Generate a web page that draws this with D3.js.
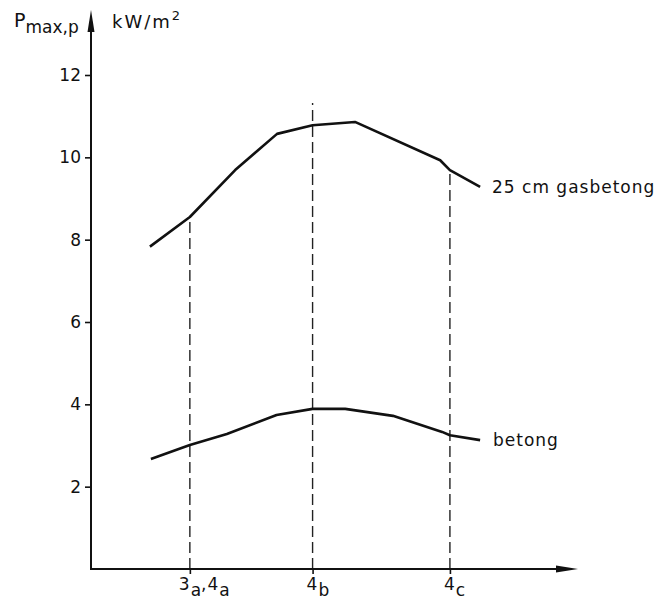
<!DOCTYPE html>
<html>
<head>
<meta charset="utf-8">
<script src="https://cdnjs.cloudflare.com/ajax/libs/d3/7.8.5/d3.min.js"></script>
<style>
  body { margin: 0; background: #fff; }
  text { font-family: "DejaVu Sans", sans-serif; fill: #111; }
</style>
</head>
<body>
<svg id="chart" width="664" height="611"></svg>
<script>
// data (x in arbitrary position units 0..100)
var xCats = ["3a,4a", "4b", "4c"];
var xCatPos = [20.3, 45.5, 73.7];
var yTicks = [2, 4, 6, 8, 10, 12];

var gasX = [12.1, 20.3, 29.6, 38.2, 45.5, 54.2, 71.7, 73.7, 79.9];
var gasY = [7.83, 8.55, 9.69, 10.57, 10.78, 10.86, 9.93, 9.69, 9.28];

var betX = [12.3, 20.3, 27.9, 38.1, 45.5, 52.2, 62.0, 72.1, 73.7, 79.9];
var betY = [2.67, 3.01, 3.28, 3.74, 3.89, 3.89, 3.72, 3.33, 3.25, 3.13];

// top end of each dashed guide line
var guideTop = [8.55, 11.32, 9.69];

var svg = d3.select("#chart");

var x = d3.scaleLinear().domain([0, 100]).range([91, 578]);
var y = d3.scaleLinear().domain([0, 12]).range([569, 75]);

var line = d3.line()
  .x(function (d) { return x(d[0]); })
  .y(function (d) { return y(d[1]); })
  .curve(d3.curveLinear);

// dashed guides
svg.append("g").selectAll("line")
  .data(xCatPos)
  .enter()
  .append("line")
  .attr("x1", function (d) { return x(d); })
  .attr("x2", function (d) { return x(d); })
  .attr("y1", y(0))
  .attr("y2", function (d, i) { return y(guideTop[i]); })
  .attr("stroke", "#222")
  .attr("stroke-width", 1.4)
  .attr("stroke-dasharray", "11,5");

// axes
var yAxis = d3.axisLeft(y).tickValues(yTicks).tickSize(6).tickPadding(4);
var gy = svg.append("g").attr("transform", "translate(" + x(0) + ",0)").call(yAxis);
gy.select(".domain").remove();
gy.selectAll("line").attr("stroke", "#111").attr("stroke-width", 1.6);
gy.selectAll("text").attr("font-size", 17).attr("font-family", "DejaVu Sans");

svg.append("line")
  .attr("x1", x(0)).attr("x2", x(0))
  .attr("y1", y(0)).attr("y2", 22)
  .attr("stroke", "#111").attr("stroke-width", 2);
svg.append("path")
  .attr("d", "M" + x(0) + ",10 L" + (x(0) - 3.5) + ",32 L" + (x(0) + 3.5) + ",32 Z")
  .attr("fill", "#111");

var xAxis = d3.axisBottom(x).tickValues(xCatPos).tickSize(5).tickFormat("");
var gx = svg.append("g").attr("transform", "translate(0," + y(0) + ")").call(xAxis);
gx.select(".domain").remove();
gx.selectAll("line").attr("stroke", "#111").attr("stroke-width", 1.6);

svg.append("line")
  .attr("x1", x(0) - 1).attr("x2", 566)
  .attr("y1", y(0)).attr("y2", y(0))
  .attr("stroke", "#111").attr("stroke-width", 2);
svg.append("path")
  .attr("d", "M578," + y(0) + " L556," + (y(0) - 3.5) + " L556," + (y(0) + 3.5) + " Z")
  .attr("fill", "#111");

// x category labels with subscripts
var labelShift = [-12, -7, -7];
xCats.forEach(function (c, i) {
  var t = svg.append("text")
    .attr("x", x(xCatPos[i]) + labelShift[i])
    .attr("y", 590)
    .attr("font-size", 17);
  c.split(",").forEach(function (part, j) {
    if (j > 0) t.append("tspan").attr("dy", -6).text(",");
    t.append("tspan").attr("dx", 1).text(part[0]);
    t.append("tspan").attr("dy", 6).attr("dx", 1).attr("font-size", 17).text(part.slice(1));
  });
});

// series
svg.append("path")
  .datum(d3.zip(gasX, gasY))
  .attr("d", line)
  .attr("fill", "none")
  .attr("stroke", "#111")
  .attr("stroke-width", 2.6)
  .attr("stroke-linejoin", "round");

svg.append("path")
  .datum(d3.zip(betX, betY))
  .attr("d", line)
  .attr("fill", "none")
  .attr("stroke", "#111")
  .attr("stroke-width", 2.6)
  .attr("stroke-linejoin", "round");

// series labels
svg.append("text")
  .attr("x", 492).attr("y", 193)
  .attr("font-size", 17).attr("letter-spacing", 1)
  .text("25 cm gasbetong");
svg.append("text")
  .attr("x", 493).attr("y", 446)
  .attr("font-size", 17).attr("letter-spacing", 1)
  .text("betong");

// axis titles
var ty = svg.append("text").attr("x", 14).attr("y", 27).attr("font-size", 19);
ty.append("tspan").text("P");
ty.append("tspan").attr("dy", 6).attr("font-size", 17).text("max,p");

var tu = svg.append("text").attr("x", 112).attr("y", 28).attr("font-size", 18).attr("letter-spacing", 2);
tu.append("tspan").text("kW/m");
tu.append("tspan").attr("dy", -8).attr("font-size", 13).text("2");
</script>
</body>
</html>
